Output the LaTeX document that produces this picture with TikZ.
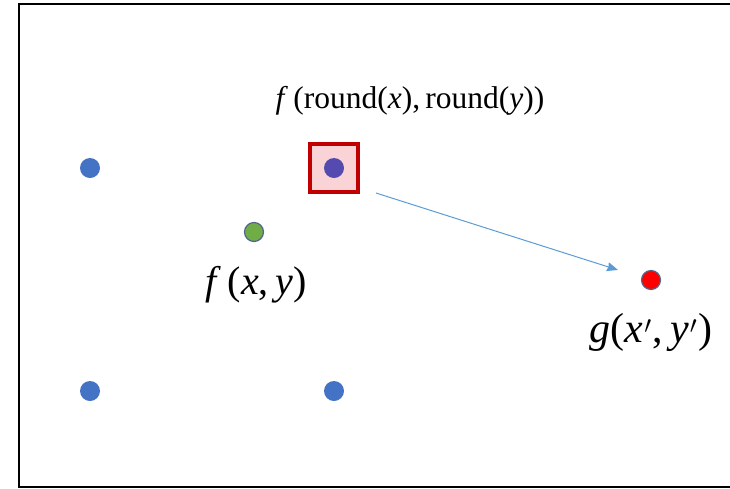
\documentclass[tikz,border=0pt]{standalone}
\usepackage{fontspec}
\setmainfont{Liberation Serif}
\usetikzlibrary{arrows.meta}
\definecolor{dotblue}{HTML}{4472C4}
\definecolor{dotgreen}{HTML}{70AD47}
\definecolor{boxred}{HTML}{C00000}
\definecolor{boxpink}{HTML}{F9D3D6}
\definecolor{arrblue}{HTML}{5B9BD5}
\definecolor{rimgray}{HTML}{50678A}
\begin{document}
\begin{tikzpicture}[x=1pt,y=-1pt,
  grid/.style={circle,fill=dotblue,minimum size=20pt,inner sep=0pt},
  probe/.style={circle,draw=rimgray,line width=1.2pt,minimum size=19pt,inner sep=0pt},
  label/.style={inner sep=0pt}]
  % Parameters (pixel units, y grows downwards)
  \def\boxsize{48} % side of the highlighted square
  \useasboundingbox (0,0) rectangle (730,488);

  % Frame, open on the right
  \draw[line width=2.5pt] (730,4) -- (19,4) -- (19,487) -- (730,487);

  % Integer grid points
  \node[grid] (p00) at (90,168) {};
  \node[grid] (p01) at (90,391) {};
  \node[grid] (p11) at (334,391) {};

  % Nearest point, highlighted
  \node[draw=boxred,fill=boxpink,line width=4pt,minimum size=\boxsize pt,inner sep=0pt] (sq) at (334,168) {};
  \node[circle,fill=blue!55!red!35!dotblue,minimum size=20pt,inner sep=0pt] (p10) at (334,168) {};
  \node[label] (lblR) at (410,101) {\fontsize{31.5}{36}\selectfont\textit{f}\,(round(\textit{x}),\,round(\textit{y}))};

  % Source sample
  \node[label] (lblF) at (256,285) {\fontsize{40}{46}\selectfont\textit{f}\,(\textit{x},\,\textit{y})};
  \node[probe,fill=dotgreen] (src) at (254,232) {};

  % Target sample
  \node[label] (lblG) at (651,332) {\fontsize{42}{48}\selectfont\textit{g}(\textit{x}\kern1pt$'$\kern1pt,\,\textit{y}\kern1pt$'$\kern1pt)};
  \node[probe,fill=red] (dst) at (651,280) {};

  % Mapping arrow
  \coordinate (arrS) at (376,193);
  \coordinate (arrE) at (618,270);
  \draw[arrblue,line width=1pt,-{Stealth[length=11pt,width=9pt,inset=1pt]}] (arrS) -- (arrE);
\end{tikzpicture}
\end{document}
